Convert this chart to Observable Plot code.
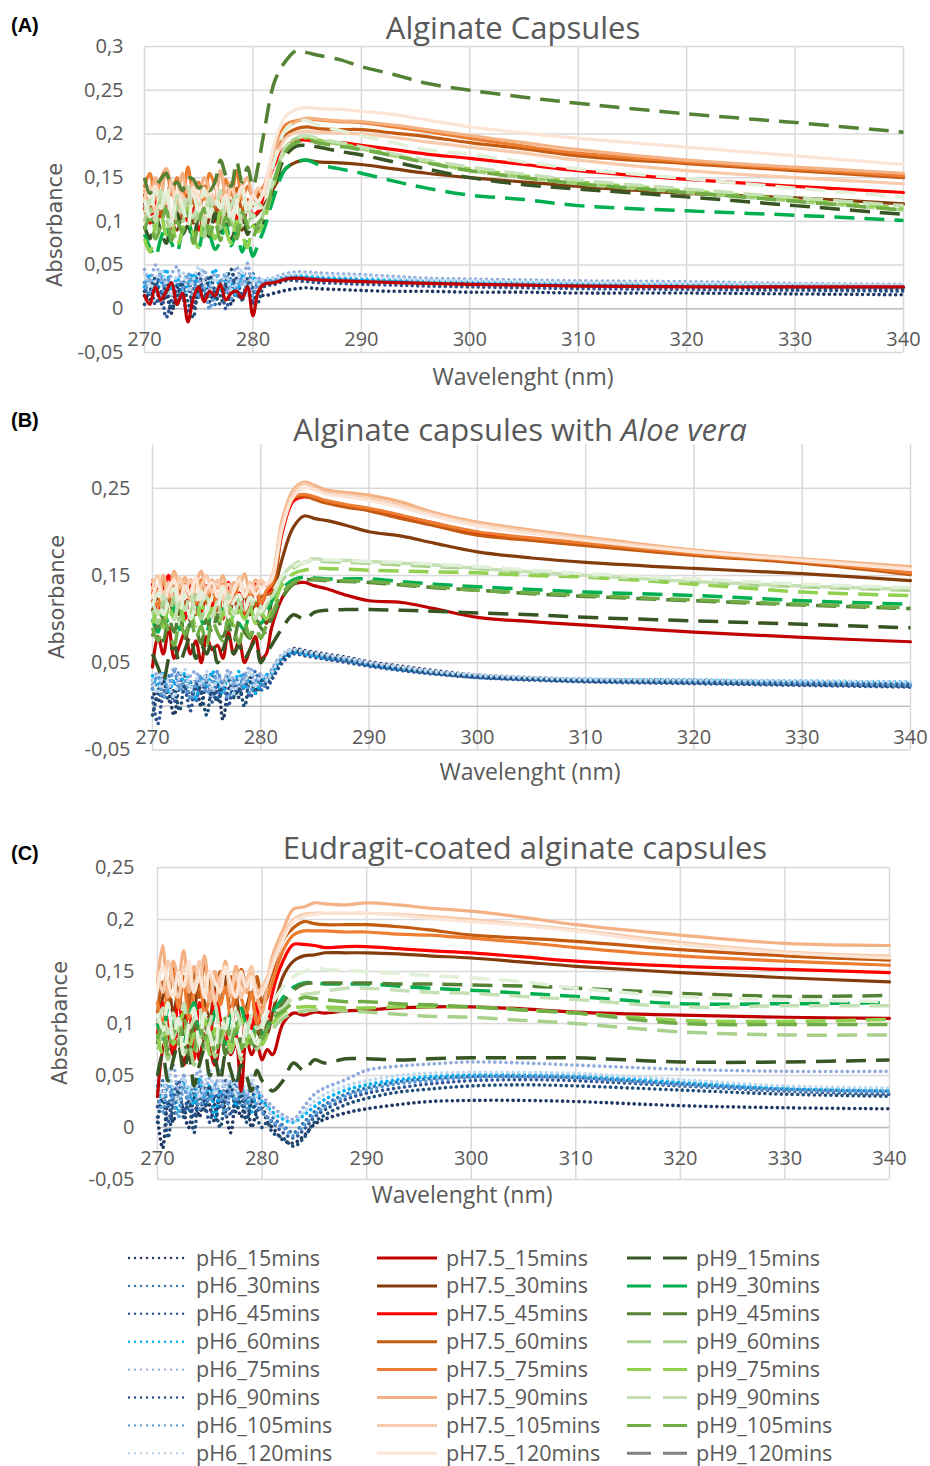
<!DOCTYPE html>
<html><head><meta charset="utf-8">
<script src="https://cdn.jsdelivr.net/npm/d3@7"></script>
<script src="https://cdn.jsdelivr.net/npm/@observablehq/plot@0.6"></script>
<style>
body{margin:0;background:#fff;width:930px;height:1466px;position:relative;overflow:hidden;font-family:"Open Sans",sans-serif;color:#595959}
.t{position:absolute;white-space:nowrap;line-height:1}
.letter{font-family:"Liberation Sans",Arial,sans-serif;font-weight:bold;font-size:20px;color:#000;transform:translateY(-50%)}
.title{font-size:31px;transform:translate(-50%,-50%)}
.xlab{font-size:23px;transform:translate(-50%,-50%)}
.ylab{font-family:"DejaVu Sans",sans-serif;font-size:21px;transform:translate(-50%,-50%) rotate(-90deg)}
.panel{position:absolute;left:0}
</style></head><body>
<div id="root"></div>
<script>
// ---------- shared axes data ----------
const wavelengths = [270,270.5,271,271.5,272,272.5,273,273.5,274,274.5,275,275.5,276,276.5,277,277.5,278,278.5,279,279.5,280,280.5,281,
  282,283,284,285,286,288,290,293,296,300,305,310,320,330,340];
const times = ["15","30","45","60","75","90","105","120"];
const xTicks = [270,280,290,300,310,320,330,340];

const colorsPH6  = ["#1F3864","#2E75B6","#2F5597","#00B0F0","#8FAADC","#1F4E79","#5B9BD5","#BDD7EE"];
const colorsPH75 = ["#C00000","#843C0C","#FF0000","#C55A11","#ED7D31","#F4B183","#F8CBAD","#FBE5D6"];
const colorsPH9  = ["#375623","#00B050","#548235","#A9D18E","#92D050","#C5E0B4","#70AD47","#E2F0D9"];
const legendColorsPH9 = ["#375623","#00B050","#548235","#A9D18E","#92D050","#C5E0B4","#70AD47","#808080"];

// ---------- Panel A : Alginate Capsules ----------
const A_pH6 = [
 [.020,.010,.028,.005,.015,-.005,.025,.012,.030,.002,.018,.035,.008,.022,.015,.028,.005,.020,.012,.030,.008,.018,.015, .018,.021,.023,.024,.023,.022,.021,.020,.020,.019,.019,.018,.018,.017,.016],
 [.030,.015,.022,.040,.018,.025,.010,.032,.020,.038,.012,.027,.020,.005,.030,.018,.035,.022,.010,.028,.040,.025,.030, .033,.036,.035,.035,.034,.033,.032,.031,.030,.029,.028,.027,.026,.025,.024],
 [.015,.035,.005,.020,-.010,.010,.030,.015,-.005,.022,.040,.018,.028,.012,.033,.000,.020,.035,.015,.025,.005,.030,.028, .030,.033,.032,.031,.030,.029,.028,.027,.026,.025,.024,.023,.022,.021,.020],
 [.025,.040,.020,.030,.045,.022,.035,.015,.028,.040,.025,.010,.032,.045,.020,.035,.028,.015,.040,.022,.035,.030,.032, .034,.037,.038,.037,.036,.035,.034,.033,.032,.031,.030,.029,.028,.027,.026],
 [.045,.030,.050,.035,.020,.040,.048,.025,.038,.015,.030,.045,.022,.040,.035,.018,.032,.048,.028,.052,.020,.035,.030, .036,.040,.042,.042,.041,.040,.039,.037,.035,.034,.033,.032,.031,.029,.028],
 [.005,.020,.035,.012,.028,.000,.015,.030,.008,-.010,.025,.012,.038,.020,.005,.030,.045,.018,.010,.035,.022,.008,.025, .028,.032,.034,.034,.033,.032,.031,.030,.029,.028,.027,.026,.025,.023,.022],
 [.030,.018,.025,.010,.035,.028,.005,.022,.040,.030,.015,.025,.000,.018,.028,.040,.012,.025,.035,.020,.015,.028,.032, .032,.035,.036,.035,.034,.033,.032,.031,.030,.029,.028,.027,.026,.025,.024],
 [.040,.025,.032,.045,.028,.015,.038,.042,.020,.033,.048,.030,.018,.035,.025,.040,.022,.030,.045,.015,.038,.028,.034, .035,.038,.040,.040,.039,.038,.037,.035,.033,.032,.031,.030,.029,.028,.027]
];
const A_pH75 = [
 [.015,.005,.025,.010,.020,.030,.005,.018,-.015,.012,.025,.008,.020,.015,.028,.010,.018,.020,.012,.025,-.008,.020,.028, .030,.034,.035,.034,.033,.032,.031,.030,.029,.028,.027,.026,.025,.025,.025],
 [.120,.105,.095,.115,.125,.100,.090,.110,.120,.098,.112,.085,.105,.118,.095,.108,.122,.100,.090,.115,.105,.110,.118, .140,.160,.168,.170,.168,.167,.165,.160,.155,.150,.145,.140,.132,.127,.120],
 [.115,.098,.125,.105,.118,.092,.110,.128,.100,.115,.090,.108,.122,.100,.115,.095,.112,.105,.098,.118,.108,.112,.130, .165,.185,.192,.193,.190,.190,.187,.182,.177,.172,.165,.158,.148,.140,.133],
 [.130,.115,.140,.108,.125,.145,.118,.105,.135,.122,.110,.140,.128,.115,.100,.132,.120,.138,.112,.125,.118,.130,.135, .175,.198,.206,.208,.206,.205,.205,.201,.197,.190,.183,.175,.166,.158,.150],
 [.140,.155,.125,.148,.160,.130,.150,.118,.162,.135,.145,.125,.155,.140,.120,.148,.130,.158,.125,.140,.128,.135,.140, .185,.210,.215,.217,.216,.214,.213,.208,.203,.195,.186,.178,.168,.160,.152],
 [.135,.120,.150,.128,.160,.140,.118,.155,.132,.145,.115,.150,.138,.125,.158,.130,.145,.120,.140,.150,.125,.138,.130, .180,.205,.214,.218,.217,.215,.214,.210,.205,.198,.190,.182,.170,.162,.155],
 [.125,.140,.110,.135,.120,.145,.100,.130,.115,.140,.125,.108,.138,.120,.132,.112,.140,.125,.135,.110,.128,.138,.130, .170,.195,.202,.203,.202,.201,.200,.196,.191,.185,.178,.170,.158,.150,.143],
 [.100,.125,.140,.115,.130,.105,.135,.120,.110,.138,.125,.100,.128,.142,.115,.130,.108,.125,.140,.118,.130,.122,.135, .190,.220,.228,.230,.229,.228,.226,.222,.216,.208,.201,.195,.185,.175,.165]
];
const A_pH9 = [
 [.095,.080,.105,.090,.075,.100,.110,.085,.095,.078,.105,.092,.082,.110,.088,.100,.080,.095,.105,.085,.098,.090,.100, .140,.175,.186,.187,.185,.180,.176,.168,.160,.150,.142,.137,.128,.118,.108],
 [.085,.070,.060,.080,.095,.075,.065,.090,.100,.080,.070,.092,.085,.068,.078,.095,.072,.088,.065,.080,.060,.075,.090, .130,.160,.168,.170,.165,.160,.155,.146,.138,.130,.125,.118,.112,.107,.101],
 [.150,.132,.140,.148,.155,.140,.145,.135,.150,.148,.138,.142,.135,.145,.170,.152,.140,.168,.145,.162,.140,.165,.200, .260,.283,.295,.293,.290,.285,.277,.268,.258,.250,.242,.235,.223,.213,.202],
 [.100,.115,.090,.125,.105,.085,.118,.100,.128,.095,.110,.082,.120,.105,.092,.115,.100,.085,.112,.098,.108,.095,.110, .150,.185,.195,.197,.193,.188,.183,.175,.168,.158,.150,.143,.133,.123,.113],
 [.080,.065,.095,.110,.085,.100,.072,.090,.115,.085,.070,.105,.095,.080,.112,.090,.075,.100,.085,.070,.095,.088,.100, .145,.182,.192,.196,.193,.189,.184,.176,.168,.160,.152,.145,.135,.125,.115],
 [.110,.125,.100,.135,.115,.095,.130,.110,.140,.105,.120,.095,.128,.112,.135,.100,.118,.130,.095,.115,.105,.120,.115, .150,.185,.196,.198,.195,.190,.185,.177,.170,.162,.154,.147,.137,.127,.118],
 [.090,.105,.080,.095,.115,.078,.100,.088,.110,.075,.098,.115,.085,.100,.078,.105,.092,.080,.110,.095,.082,.098,.105, .148,.180,.190,.193,.190,.186,.182,.175,.167,.158,.150,.143,.133,.123,.113],
 [.125,.105,.135,.115,.140,.100,.128,.118,.095,.130,.112,.138,.105,.125,.115,.132,.098,.120,.135,.108,.122,.115,.120, .170,.205,.214,.215,.210,.204,.198,.190,.182,.177,.168,.160,.149,.138,.128]
];

// ---------- Panel B : Alginate capsules with Aloe vera ----------
const B_pH6 = [
 [.020,.005,.030,.015,-.010,.025,.035,.010,.020,.000,.030,.015,.025,-.015,.018,.030,.010,.025,.035,.015,.022,.030,.040, .058,.066,.064,.062,.060,.056,.051,.046,.041,.036,.033,.031,.030,.028,.026],
 [.030,.020,.010,.035,.025,.040,.015,.028,.005,.032,.020,.038,.010,.025,.030,.012,.035,.020,.028,.040,.018,.032,.035, .055,.062,.060,.058,.055,.052,.047,.042,.038,.033,.031,.029,.028,.027,.026],
 [.010,-.020,.015,.025,.005,.030,.020,-.005,.025,.015,.035,.005,.020,.030,.000,.022,.015,.030,.010,.025,.035,.020,.030, .050,.060,.058,.056,.054,.050,.046,.041,.037,.033,.030,.028,.026,.024,.022],
 [.035,.025,.040,.015,.030,.020,.038,.025,.010,.032,.022,.040,.028,.015,.035,.025,.040,.020,.030,.015,.028,.036,.038, .056,.062,.060,.058,.056,.053,.048,.043,.039,.035,.032,.031,.030,.029,.028],
 [.025,.040,.030,.020,.045,.028,.015,.035,.040,.022,.030,.010,.038,.025,.042,.030,.018,.035,.045,.028,.038,.030,.042, .060,.065,.062,.060,.058,.055,.050,.045,.040,.036,.033,.031,.029,.028,.027],
 [-.010,.015,.030,.005,.020,-.005,.025,.010,.030,.015,-.010,.020,.005,.025,.035,.010,.020,.000,.028,.018,.030,.025,.035, .055,.063,.062,.060,.057,.053,.048,.043,.038,.034,.031,.029,.027,.025,.023],
 [.020,.035,.010,.028,.040,.018,.030,.008,.025,.035,.015,.028,.040,.020,.010,.030,.025,.038,.015,.030,.022,.028,.040, .058,.064,.062,.060,.057,.053,.049,.044,.039,.035,.032,.030,.028,.026,.024],
 [.030,.015,.038,.025,.010,.035,.042,.020,.032,.025,.040,.018,.030,.022,.038,.015,.032,.028,.040,.022,.035,.030,.038, .059,.065,.063,.061,.059,.055,.050,.045,.040,.036,.033,.031,.030,.029,.028]
];
const B_pH75 = [
 [.045,.080,.060,.090,.055,.070,.085,.060,.075,.050,.080,.065,.070,.055,.085,.060,.075,.050,.065,.080,.055,.060,.090, .125,.140,.142,.138,.135,.127,.121,.119,.112,.102,.097,.093,.085,.079,.074],
 [.110,.125,.100,.118,.130,.105,.120,.098,.125,.110,.128,.102,.115,.125,.100,.120,.112,.128,.105,.118,.110,.095,.120, .170,.205,.218,.215,.213,.207,.200,.195,.187,.177,.170,.165,.158,.152,.144],
 [.140,.105,.130,.150,.110,.135,.100,.145,.120,.108,.138,.115,.128,.100,.142,.118,.130,.105,.125,.140,.112,.130,.135, .200,.235,.240,.238,.235,.230,.226,.218,.210,.198,.192,.186,.174,.165,.153],
 [.120,.135,.110,.128,.100,.138,.115,.125,.105,.132,.118,.138,.110,.125,.102,.130,.120,.108,.135,.115,.125,.128,.130, .205,.238,.241,.237,.233,.228,.224,.215,.207,.196,.190,.184,.173,.164,.151],
 [.130,.115,.145,.125,.138,.112,.140,.128,.118,.145,.125,.135,.115,.140,.128,.120,.142,.130,.125,.138,.118,.132,.140, .210,.240,.243,.240,.236,.231,.227,.219,.210,.200,.193,.187,.175,.166,.153],
 [.145,.130,.150,.125,.155,.135,.148,.122,.140,.155,.128,.145,.135,.150,.125,.142,.138,.152,.130,.145,.140,.138,.145, .215,.248,.257,.253,.248,.245,.242,.234,.222,.211,.202,.194,.179,.169,.160],
 [.135,.150,.128,.142,.120,.148,.132,.145,.125,.138,.150,.130,.145,.122,.140,.132,.148,.128,.142,.135,.145,.140,.148, .210,.245,.255,.250,.245,.242,.238,.230,.220,.209,.200,.192,.178,.168,.158],
 [.125,.140,.118,.135,.145,.122,.138,.128,.148,.120,.135,.142,.125,.138,.118,.132,.145,.125,.138,.128,.135,.140,.145, .205,.240,.250,.248,.243,.240,.236,.228,.218,.207,.198,.190,.177,.167,.157]
];
const B_pH9 = [
 [.060,.045,.030,.055,.070,.050,.065,.080,.055,.070,.060,.075,.050,.065,.080,.060,.070,.055,.065,.075,.050,.060,.070, .090,.105,.100,.108,.110,.111,.111,.110,.109,.107,.105,.102,.098,.094,.090],
 [.100,.085,.110,.095,.115,.088,.105,.092,.118,.100,.085,.110,.098,.112,.090,.105,.095,.088,.108,.100,.095,.105,.120, .135,.145,.148,.147,.146,.146,.146,.143,.140,.137,.134,.131,.127,.121,.117],
 [.080,.095,.075,.100,.085,.110,.078,.095,.088,.072,.100,.085,.105,.080,.092,.075,.098,.085,.078,.100,.090,.085,.100, .125,.140,.145,.145,.144,.143,.142,.139,.136,.133,.129,.126,.121,.116,.112],
 [.110,.095,.120,.105,.125,.098,.115,.108,.128,.100,.118,.105,.122,.095,.115,.108,.125,.100,.112,.120,.105,.115,.125, .145,.158,.165,.167,.166,.165,.164,.162,.160,.158,.153,.149,.142,.137,.133],
 [.095,.110,.090,.115,.100,.120,.095,.108,.092,.118,.100,.112,.095,.105,.120,.092,.110,.100,.115,.095,.108,.100,.110, .140,.152,.156,.158,.158,.157,.156,.155,.154,.153,.150,.148,.140,.131,.127],
 [.120,.105,.128,.112,.100,.125,.110,.130,.105,.118,.125,.102,.120,.112,.128,.105,.118,.110,.125,.100,.115,.122,.125, .150,.162,.168,.169,.168,.167,.166,.164,.162,.158,.154,.150,.143,.138,.134],
 [.090,.075,.100,.085,.070,.095,.082,.105,.078,.092,.070,.098,.085,.075,.100,.088,.072,.095,.080,.090,.078,.092,.105, .130,.142,.146,.146,.145,.144,.143,.140,.137,.133,.130,.127,.122,.117,.113],
 [.115,.130,.105,.122,.135,.110,.128,.100,.118,.132,.108,.125,.115,.135,.102,.120,.128,.110,.125,.118,.108,.120,.128, .150,.160,.165,.168,.168,.167,.166,.165,.163,.160,.156,.152,.146,.140,.136]
];

// ---------- Panel C : Eudragit-coated alginate capsules ----------
const C_pH6 = [
 [.010,-.020,.025,.005,.035,.015,.000,.030,.010,.040,.020,.005,.035,.015,-.005,.025,.010,.030,.000,.015,.020,.005,.000, -.012,-.015,-.008,.003,.008,.014,.018,.022,.025,.026,.026,.025,.021,.019,.018],
 [.030,.045,.020,.038,.025,.050,.015,.035,.045,.022,.030,.040,.018,.035,.028,.045,.020,.030,.038,.015,.025,.020,.010, .002,-.005,.005,.015,.022,.032,.038,.044,.047,.049,.049,.048,.042,.037,.035],
 [.020,.035,.005,.028,.045,.015,.030,.010,.040,.025,.005,.030,.020,.045,.012,.028,.035,.008,.025,.040,.015,.010,.005, -.005,-.010,-.002,.010,.017,.027,.033,.038,.042,.045,.046,.045,.040,.035,.032],
 [.040,.025,.050,.030,.015,.042,.035,.022,.048,.030,.040,.010,.035,.028,.045,.020,.038,.030,.015,.035,.025,.020,.015, .008,.005,.012,.020,.027,.036,.041,.046,.049,.051,.051,.050,.044,.038,.036],
 [.050,.030,.045,.060,.035,.050,.025,.045,.055,.030,.048,.040,.055,.025,.045,.035,.050,.028,.042,.035,.030,.025,.020, .012,.008,.020,.032,.038,.046,.055,.059,.061,.063,.062,.060,.056,.054,.054],
 [.005,.030,-.010,.020,.035,.010,.025,-.005,.030,.015,.040,.020,.000,.028,.040,.015,.030,.005,.025,.010,.000,.005,-.005, -.010,-.018,-.010,.005,.012,.022,.028,.034,.037,.040,.041,.040,.036,.032,.030],
 [.035,.015,.040,.025,.010,.038,.028,.045,.018,.032,.025,.042,.030,.012,.035,.025,.040,.018,.030,.022,.015,.010,.005, .000,-.008,.002,.012,.020,.030,.036,.042,.045,.048,.049,.048,.041,.036,.034],
 [.045,.030,.055,.038,.025,.048,.035,.050,.028,.042,.055,.032,.045,.038,.052,.030,.045,.035,.050,.028,.022,.018,.012, .010,.005,.015,.025,.032,.040,.045,.050,.052,.053,.053,.052,.046,.040,.038]
];
const C_pH75 = [
 [.030,.075,.090,.070,.095,.060,.085,.100,.065,.090,.075,.060,.085,.100,.070,.080,.035,.085,.070,.080,.065,.075,.070, .100,.110,.108,.111,.110,.112,.113,.115,.116,.116,.114,.111,.108,.106,.105],
 [.100,.125,.140,.110,.130,.095,.135,.115,.140,.120,.105,.135,.120,.145,.110,.125,.100,.115,.130,.095,.085,.090,.110, .145,.160,.165,.166,.168,.168,.168,.167,.165,.163,.159,.155,.149,.144,.140],
 [.090,.120,.100,.075,.125,.095,.110,.065,.120,.100,.085,.130,.105,.080,.115,.090,.070,.110,.095,.120,.080,.100,.130, .160,.176,.176,.175,.173,.174,.174,.172,.170,.168,.164,.160,.155,.152,.149],
 [.110,.140,.120,.155,.130,.145,.115,.150,.125,.158,.135,.120,.150,.130,.145,.118,.152,.135,.125,.145,.120,.135,.150, .180,.192,.198,.196,.195,.195,.195,.193,.190,.185,.182,.179,.171,.165,.161],
 [.120,.100,.135,.150,.115,.140,.105,.130,.145,.110,.125,.150,.118,.135,.105,.140,.125,.110,.130,.100,.115,.125,.140, .170,.185,.189,.189,.189,.188,.188,.186,.185,.182,.178,.173,.165,.160,.156],
 [.140,.175,.125,.160,.145,.170,.130,.155,.140,.165,.120,.150,.135,.160,.125,.155,.140,.130,.150,.125,.110,.140,.165, .190,.210,.212,.216,.215,.214,.216,.214,.211,.208,.202,.195,.185,.177,.175],
 [.150,.130,.160,.140,.125,.155,.145,.130,.160,.135,.150,.120,.145,.155,.130,.148,.125,.140,.155,.130,.135,.145,.160, .185,.200,.205,.206,.206,.206,.206,.205,.203,.200,.195,.190,.178,.169,.165],
 [.135,.155,.140,.125,.150,.135,.160,.130,.145,.125,.150,.140,.130,.155,.138,.125,.150,.135,.145,.125,.130,.140,.155, .180,.198,.203,.205,.206,.206,.206,.204,.201,.198,.194,.189,.176,.168,.163]
];
const C_pH9 = [
 [.050,.070,.045,.065,.080,.055,.070,.040,.060,.075,.050,.065,.045,.070,.055,.040,.060,.050,.035,.055,.045,.040,.035, .045,.062,.055,.065,.062,.066,.066,.065,.066,.067,.067,.067,.063,.063,.065],
 [.100,.085,.115,.095,.110,.080,.105,.120,.090,.100,.085,.112,.095,.080,.108,.090,.115,.095,.085,.100,.090,.095,.110, .125,.135,.139,.139,.138,.138,.138,.136,.134,.132,.129,.126,.119,.119,.120],
 [.080,.100,.075,.095,.110,.085,.070,.100,.090,.075,.105,.085,.095,.070,.090,.100,.080,.095,.085,.075,.095,.100,.105, .120,.132,.138,.139,.139,.139,.139,.138,.138,.137,.136,.134,.129,.126,.127],
 [.075,.090,.065,.085,.095,.070,.080,.060,.088,.075,.092,.068,.080,.095,.072,.085,.065,.080,.090,.075,.085,.090,.095, .105,.110,.112,.113,.113,.112,.111,.109,.107,.106,.103,.100,.092,.089,.089],
 [.090,.070,.100,.080,.095,.110,.075,.090,.085,.105,.070,.095,.085,.100,.075,.090,.105,.080,.090,.085,.080,.090,.100, .110,.115,.116,.116,.116,.115,.115,.116,.116,.116,.113,.110,.103,.102,.104],
 [.100,.115,.090,.110,.085,.120,.095,.105,.115,.088,.100,.118,.092,.105,.085,.112,.098,.090,.108,.095,.100,.105,.110, .115,.125,.128,.129,.131,.134,.134,.132,.130,.129,.126,.123,.116,.117,.117],
 [.085,.100,.070,.095,.080,.105,.090,.075,.100,.085,.095,.070,.090,.105,.080,.095,.075,.090,.080,.095,.085,.095,.105, .112,.120,.125,.124,.123,.121,.121,.119,.118,.116,.113,.110,.100,.099,.099],
 [.110,.095,.120,.085,.105,.070,.100,.115,.080,.110,.090,.075,.105,.095,.115,.085,.070,.100,.090,.080,.095,.110,.120, .135,.145,.150,.153,.152,.151,.150,.148,.146,.144,.140,.134,.126,.123,.121]
];

// ---------- drawing ----------
const fmt = d => d === 0 ? "0" : String(+d.toFixed(2)).replace(".", ",");
const problems = [];

function seriesMarks(groups, colors, style, tag){
  const marks = [];
  groups.forEach((vals, i) => {
    if (vals.length !== wavelengths.length) problems.push(tag + times[i] + ":" + vals.length);
    const pts = wavelengths.map((w, k) => [w, vals[k]]);
    marks.push(Plot.line(pts, {x: d => d[0], y: d => d[1], stroke: colors[i], curve: "catmull-rom", ...style}));
  });
  return marks;
}

const dotted = {strokeWidth: 3.6, strokeDasharray: "0.01,5.5", strokeLinecap: "round"};
const solid  = {strokeWidth: 3.2};
const dashed = {strokeWidth: 3.5, strokeDasharray: "20,10", strokeLinecap: "butt"};

function panel(cfg){
  const marks = [
    Plot.ruleY(cfg.yGrid, {stroke: "#d9d9d9", strokeWidth: 1.5}),
    Plot.ruleX(xTicks, {stroke: "#d9d9d9", strokeWidth: 1.5}),
    Plot.ruleY([0], {stroke: "#bfbfbf", strokeWidth: 1.5}),
    ...seriesMarks(cfg.pH6, colorsPH6, dotted, cfg.name + " pH6_"),
    ...seriesMarks(cfg.pH75, colorsPH75, solid, cfg.name + " pH7.5_"),
    ...seriesMarks(cfg.pH9, colorsPH9, dashed, cfg.name + " pH9_"),
    Plot.text(cfg.yTicks, {x: 270, y: d => d, text: d => fmt(d), textAnchor: "end", dx: -cfg.pad, fill: "#595959"}),
    Plot.text(xTicks, {x: d => d, y: d => 0, text: d => String(d), dy: 31, fill: "#595959"})
  ];
  const svg = Plot.plot({
    width: 930, height: cfg.height,
    marginLeft: cfg.ml, marginRight: cfg.mr, marginTop: cfg.mt, marginBottom: cfg.mb,
    x: {domain: [270, 340], axis: null},
    y: {domain: cfg.yDomain, axis: null},
    style: {fontFamily: "'Open Sans', sans-serif", fontSize: "20px", color: "#595959", background: "transparent", overflow: "visible"},
    marks
  });
  const wrap = document.createElement("div");
  wrap.className = "panel";
  wrap.style.top = cfg.top + "px";
  wrap.appendChild(svg);
  document.getElementById("root").appendChild(wrap);
}

panel({name: "A", top: 0, height: 395, ml: 144, mr: 27, mt: 46, mb: 43, pad: 21,
  yDomain: [-0.05, 0.3], yTicks: [-0.05,0,0.05,0.1,0.15,0.2,0.25,0.3], yGrid: [-0.05,0,0.05,0.1,0.15,0.2,0.25,0.3],
  pH6: A_pH6, pH75: A_pH75, pH9: A_pH9});
panel({name: "B", top: 400, height: 390, ml: 152, mr: 20, mt: 44, mb: 40.5, pad: 22,
  yDomain: [-0.05, 0.3], yTicks: [-0.05,0.05,0.15,0.25], yGrid: [-0.05,0.05,0.15,0.25],
  pH6: B_pH6, pH75: B_pH75, pH9: B_pH9});
panel({name: "C", top: 820, height: 400, ml: 157, mr: 41, mt: 47, mb: 41, pad: 23,
  yDomain: [-0.05, 0.25], yTicks: [-0.05,0,0.05,0.1,0.15,0.2,0.25], yGrid: [-0.05,0,0.05,0.1,0.15,0.2,0.25],
  pH6: C_pH6, pH75: C_pH75, pH9: C_pH9});

// ---------- text ----------
function label(cls, html, x, y){
  const d = document.createElement("div");
  d.className = "t " + cls; d.innerHTML = html;
  d.style.left = x + "px"; d.style.top = y + "px";
  document.body.appendChild(d);
}
label("letter", "(A)", 11, 25);
label("letter", "(B)", 11, 420);
label("letter", "(C)", 11, 853);
label("title", "Alginate Capsules", 513, 27);
label("title", "Alginate capsules with <i>Aloe vera</i>", 520, 429);
label("title", "Eudragit-coated alginate capsules", 525, 847);
label("xlab", "Wavelenght (nm)", 523, 376);
label("xlab", "Wavelenght (nm)", 530, 771);
label("xlab", "Wavelenght (nm)", 462, 1194);
label("ylab", "Absorbance", 55, 225);
label("ylab", "Absorbance", 57, 597);
label("ylab", "Absorbance", 60, 1023);

// ---------- legend ----------
const legendGroups = [
  {prefix: "pH6_", colors: colorsPH6, x: 127, dash: "0.01,6", w: 2.4, cap: "round"},
  {prefix: "pH7.5_", colors: colorsPH75, x: 377, dash: null, w: 3, cap: "butt"},
  {prefix: "pH9_", colors: legendColorsPH9, x: 627, dash: "24,12", w: 3, cap: "butt"}
];
const lg = d3.select("body").append("svg")
  .attr("width", 930).attr("height", 226)
  .style("position", "absolute").style("left", "0px").style("top", "1240px");
legendGroups.forEach(g => {
  times.forEach((t, i) => {
    const y = 18 + i * 27.9;
    const ln = lg.append("line").attr("x1", g.x + (g.cap === "round" ? 2 : 0)).attr("x2", g.x + 60).attr("y1", y).attr("y2", y)
      .attr("stroke", g.colors[i]).attr("stroke-width", g.w).attr("stroke-linecap", g.cap);
    if (g.dash) ln.attr("stroke-dasharray", g.dash);
    lg.append("text").attr("x", g.x + 69).attr("y", y).attr("dy", "0.35em")
      .attr("font-family", "'Open Sans', sans-serif").attr("font-size", 21.5).attr("fill", "#595959")
      .text(g.prefix + t + "mins");
  });
});

if (problems.length) {
  const d = document.createElement("div");
  d.style.cssText = "position:absolute;left:300px;top:1200px;color:red;font-size:14px";
  d.textContent = "LEN: " + problems.join(" ");
  document.body.appendChild(d);
}
</script>
</body></html>
